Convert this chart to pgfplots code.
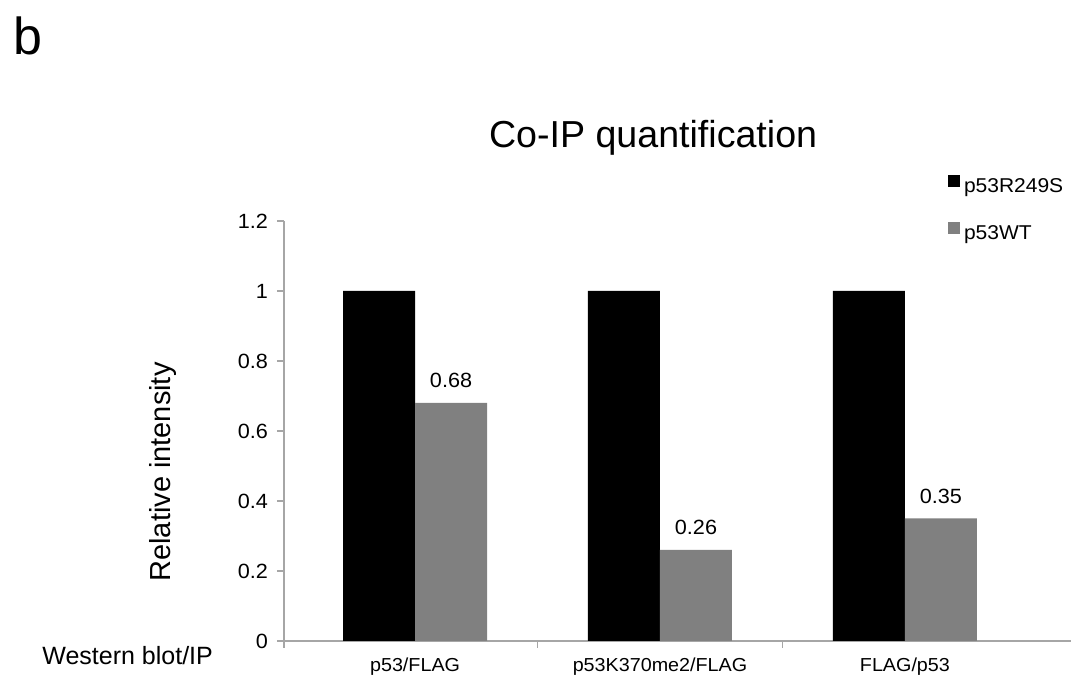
\documentclass[border=0pt]{standalone}
\usepackage{pgfplots}
\pgfplotsset{compat=1.18}
\usepackage{fontspec}
\setmainfont{Liberation Sans}
\newfontfamily\wide{Liberation Sans}[FakeStretch=1.05]
\definecolor{axgray}{RGB}{166,166,166}
\definecolor{bargray}{RGB}{128,128,128}
\begin{document}
\begin{tikzpicture}
\begin{axis}[
  at={(142pt,19.5pt)}, anchor=south west,
  scale only axis, width=393.5pt, height=210pt,
  xmin=-0.535, xmax=2.678, ymin=0, ymax=1.2,
  axis x line*=bottom, axis y line*=left,
  axis line style={draw=axgray, line width=0.6pt},
  tick align=outside, major tick length=3.5pt,
  ybar=0pt, bar width=36pt,
  xtick={0,1,2},
  xticklabels={p53/FLAG, p53K370me2/FLAG, FLAG/p53},
  xtick style={draw=none},
  extra x ticks={-0.535,0.5,1.5},
  extra x tick labels={},
  extra x tick style={xtick style={draw=axgray, line width=0.6pt}},
  ytick={0,0.2,0.4,0.6,0.8,1,1.2},
  ytick style={draw=axgray, line width=0.6pt},
  /pgf/number format/assume math mode=true,
  yticklabel style={font=\wide\fontsize{10.3}{12}\selectfont, /pgf/number format/fixed, xshift=-1pt},
  xticklabel style={font=\wide\fontsize{9.4}{11}\selectfont, yshift=-1.5pt},
  ylabel={Relative intensity},
  ylabel style={at={(axis description cs:-0.1537,0.4024)}, anchor=center, font=\fontsize{14.5}{17}\selectfont},
  title={Co-IP quantification},
  title style={at={(axis description cs:0.469,1.1476)}, anchor=base, font=\fontsize{18.8}{22}\selectfont},
  legend style={at={(axis description cs:0.8437,1.1095)}, anchor=north west,
    draw=none, fill=none, inner sep=0pt, outer sep=0pt, row sep=13.5pt,
    nodes={inner sep=0pt, font=\wide\fontsize{10}{12}\selectfont},
    /tikz/every odd column/.append style={column sep=2pt}},
  legend cell align=left,
  legend image code/.code={\fill[#1] (0pt,0pt) rectangle (6pt,6pt);},
]
\addplot[fill=black, draw=none] coordinates {(0,1) (1,1) (2,1)};
\addplot[fill=bargray, draw=none,
  nodes near coords,
  nodes near coords style={font=\wide\fontsize{10.3}{12}\selectfont, text=black, yshift=4pt, /pgf/number format/fixed, /pgf/number format/precision=2}]
  coordinates {(0,0.68) (1,0.26) (2,0.35)};
\legend{p53R249S, p53WT}
\end{axis}
\node[anchor=base west, inner sep=0pt, font=\fontsize{12.5}{15}\selectfont] at (21pt,7.5pt) {Western blot/IP};
\node[anchor=base west, inner sep=0pt, font=\fontsize{26}{30}\selectfont] at (6.5pt,312.5pt) {b};
\pgfresetboundingbox
\useasboundingbox (0,0) rectangle (535.5pt,340pt);
\end{tikzpicture}
\end{document}
